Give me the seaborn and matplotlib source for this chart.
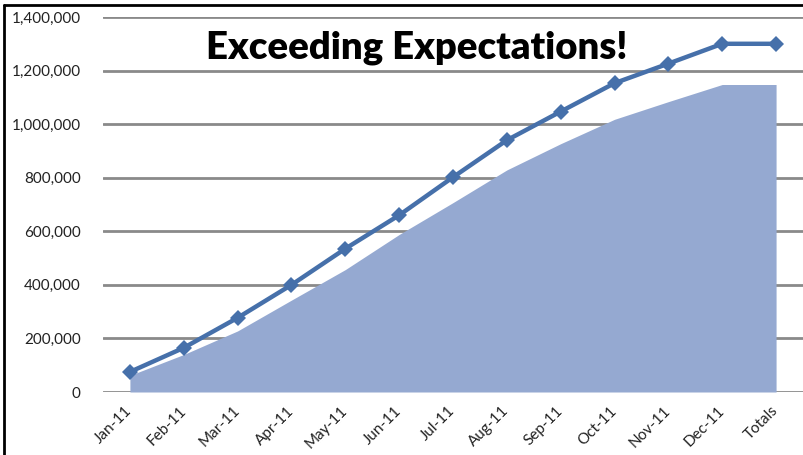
import numpy as np
import pandas as pd
import seaborn as sns
import matplotlib.pyplot as plt
from matplotlib.lines import Line2D
from matplotlib.ticker import FuncFormatter

months = ["Jan-11", "Feb-11", "Mar-11", "Apr-11", "May-11", "Jun-11", "Jul-11",
          "Aug-11", "Sep-11", "Oct-11", "Nov-11", "Dec-11", "Totals"]
actual = [75000, 165000, 277000, 400000, 535000, 660000, 802000,
          940000, 1047000, 1153000, 1226000, 1300000, 1300000]
expected = [62000, 140000, 228000, 343000, 457000, 588000, 707000,
            829000, 927000, 1018000, 1084000, 1148000, 1148000]
yticks = [0, 200000, 400000, 600000, 800000, 1000000, 1200000, 1400000]

df = pd.DataFrame({"month": months, "actual": actual, "expected": expected})
df["pos"] = range(len(df))

sns.set_style("white")
plt.rcParams["font.family"] = ["Lato", "DejaVu Sans"]

fig = plt.figure(figsize=(8.04, 4.55), dpi=100)
ax = fig.add_axes([103 / 804, 1 - 392 / 455, 700 / 804, 375 / 455])

ax.fill_between(df["pos"], 0, df["expected"], color="#95a9d1", linewidth=0, zorder=2)
sns.lineplot(data=df, x="pos", y="actual", ax=ax, color="#4670aa", linewidth=3.2,
             marker="D", markersize=8.5, markeredgewidth=0, zorder=3)

ax.set_xlim(-0.5, len(months) - 0.5)
ax.set_ylim(0, 1400000)
ax.set_yticks(yticks)
ax.yaxis.set_major_formatter(FuncFormatter(lambda v, p: f"{int(v):,}"))
ax.grid(axis="y", color="#8a8a8a", linewidth=2, zorder=0)
ax.set_axisbelow(True)
for s in ax.spines.values():
    s.set_visible(False)
ax.set_xticks(df["pos"])
ax.set_xticklabels(months, rotation=45, ha="right", va="center",
                   rotation_mode="anchor", fontsize=11, color="#222222")
ax.tick_params(axis="x", length=0, pad=12)
ax.tick_params(axis="y", length=0, pad=16, labelsize=11, labelcolor="#222222")
ax.set_xlabel("")
ax.set_ylabel("")

fig.text(417 / 804, 1 - 48 / 455, "Exceeding Expectations!", ha="center", va="center",
         fontsize=27.5, fontweight="heavy", color="black")

# chart frame (left and top edges visible)
fig.add_artist(Line2D([4 / 804, 4 / 804], [0, 1 - 5 / 455], color="black", linewidth=2))
fig.add_artist(Line2D([4 / 804, 1], [1 - 5 / 455, 1 - 5 / 455], color="black", linewidth=2))

fig.savefig("out.png", dpi=100)
